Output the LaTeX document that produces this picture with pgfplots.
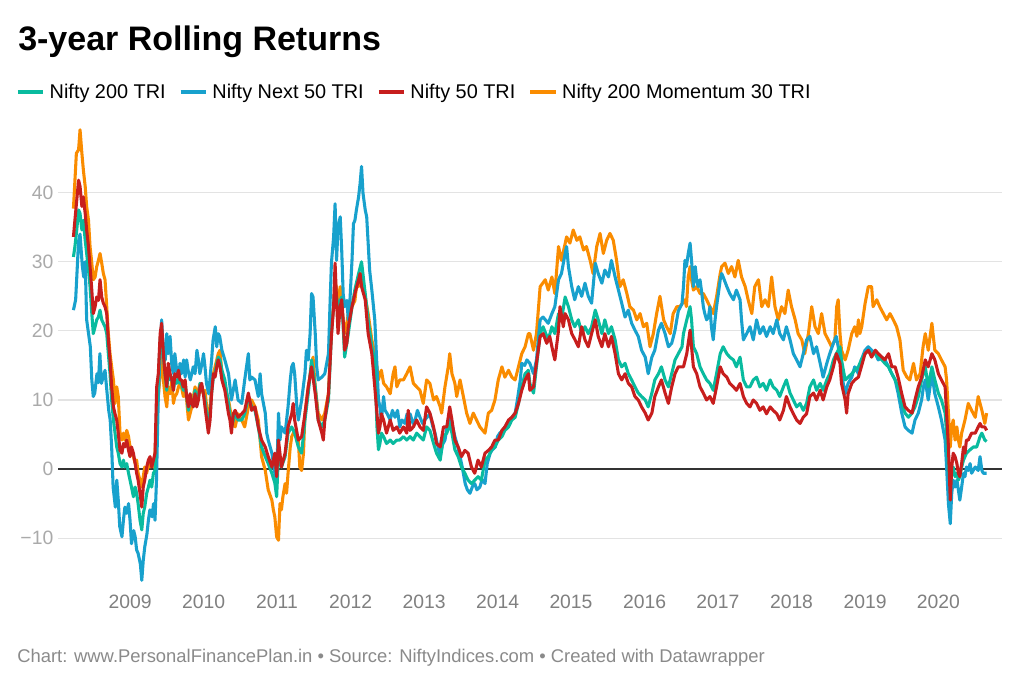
\documentclass[border=0pt]{standalone}
\usepackage{fontspec}
\setmainfont{Liberation Sans}
\usepackage{pgfplots}
\pgfplotsset{compat=1.18}
\usepackage{pgfplotstable}
\definecolor{cgreen}{HTML}{09BB9F}
\definecolor{cblue}{HTML}{18A1CD}
\definecolor{cred}{HTML}{C71E1D}
\definecolor{corange}{HTML}{FA8C00}
\definecolor{cgrid}{HTML}{E3E3E3}
\definecolor{cylab}{HTML}{AAAAAA}
\definecolor{cxlab}{HTML}{808080}
\definecolor{cfoot}{HTML}{8A8A8A}

\pgfplotstableread{
x y
2008.23 30.7
2008.25 32.2
2008.275 34.6
2008.30 37.5
2008.32 37.0
2008.345 34.6
2008.365 36.0
2008.39 33.1
2008.41 31.2
2008.435 28.8
2008.456 26.4
2008.48 22.5
2008.50 19.6
2008.525 20.6
2008.547 21.6
2008.57 22.0
2008.592 23.0
2008.615 21.6
2008.637 21.1
2008.66 20.6
2008.683 19.6
2008.705 16.7
2008.728 13.8
2008.75 10.0
2008.774 7.1
2008.796 5.2
2008.819 3.2
2008.84 2.3
2008.864 0.8
2008.89 0.3
2008.91 1.3
2008.93 0.3
2008.955 0.8
2008.98 -0.6
2009.00 -1.6
2009.02 -2.6
2009.046 -4.0
2009.07 -2.6
2009.09 -3.5
2009.11 -5.0
2009.136 -7.4
2009.16 -8.8
2009.18 -6.4
2009.20 -5.5
2009.227 -3.5
2009.25 -2.6
2009.272 -1.6
2009.295 -2.6
2009.318 -0.6
2009.34 -0.2
2009.363 9.0
2009.385 12.9
2009.41 18.7
2009.43 20.1
2009.454 16.2
2009.476 13.8
2009.50 11.4
2009.52 14.3
2009.545 12.9
2009.57 13.3
2009.59 11.4
2009.61 12.9
2009.635 12.4
2009.66 13.3
2009.68 12.4
2009.70 12.4
2009.726 11.4
2009.75 12.4
2009.77 10.5
2009.795 8.5
2009.817 10.0
2009.84 9.5
2009.862 9.5
2009.885 11.4
2009.907 10.0
2009.93 10.5
2009.953 12.4
2009.975 12.0
2009.998 11.0
2010.02 10.0
2010.043 8.0
2010.066 6.6
2010.089 8.0
2010.11 11.0
2010.134 13.3
2010.157 13.8
2010.18 15.3
2010.20 16.2
2010.225 15.8
2010.25 14.3
2010.29 12.9
2010.34 9.5
2010.38 6.1
2010.43 8.0
2010.47 7.1
2010.52 7.1
2010.56 8.0
2010.61 10.5
2010.655 9.0
2010.70 8.5
2010.745 6.1
2010.79 3.2
2010.84 1.8
2010.88 0.8
2010.93 -0.6
2010.97 -2.0
2010.995 -4.0
2011.02 2.3
2011.06 0.3
2011.11 1.8
2011.15 5.2
2011.20 6.1
2011.24 5.2
2011.29 3.2
2011.335 2.3
2011.38 7.1
2011.425 11.0
2011.47 15.8
2011.52 11.9
2011.56 7.1
2011.61 6.1
2011.65 7.1
2011.70 10.0
2011.74 19.6
2011.79 26.4
2011.83 23.5
2011.88 24.9
2011.92 16.2
2011.97 19.6
2012.02 23.5
2012.06 26.0
2012.11 28.3
2012.15 30.0
2012.20 25.4
2012.24 21.6
2012.29 17.7
2012.33 15.8
2012.36 6.1
2012.38 2.8
2012.40 3.7
2012.42 5.2
2012.45 4.7
2012.49 3.7
2012.54 4.2
2012.58 3.7
2012.63 4.2
2012.67 4.2
2012.72 4.7
2012.765 4.2
2012.81 4.7
2012.855 4.2
2012.90 5.2
2012.945 4.7
2012.99 4.2
2013.035 6.1
2013.08 5.6
2013.13 3.7
2013.17 2.3
2013.22 1.3
2013.265 4.7
2013.31 5.2
2013.35 6.6
2013.38 5.2
2013.42 2.8
2013.465 1.8
2013.51 0.3
2013.555 -0.6
2013.60 -1.6
2013.645 -2.1
2013.69 -1.6
2013.735 -1.1
2013.78 -1.6
2013.83 1.3
2013.875 1.8
2013.92 2.8
2013.965 3.2
2014.01 4.2
2014.06 4.7
2014.10 5.6
2014.15 6.1
2014.195 7.1
2014.24 7.5
2014.285 9.5
2014.33 11.9
2014.375 13.8
2014.42 14.3
2014.44 12.4
2014.49 11.0
2014.53 14.8
2014.58 19.6
2014.62 20.6
2014.69 18.7
2014.74 20.6
2014.78 19.6
2014.83 22.5
2014.87 21.6
2014.92 24.9
2014.965 23.5
2015.01 21.6
2015.05 20.6
2015.10 21.6
2015.145 19.6
2015.19 20.6
2015.235 19.6
2015.28 20.6
2015.33 23.0
2015.37 21.6
2015.42 19.6
2015.46 21.6
2015.51 19.6
2015.55 20.6
2015.60 18.7
2015.645 15.8
2015.69 14.8
2015.735 15.3
2015.78 13.8
2015.825 12.9
2015.87 11.9
2015.915 11.0
2015.96 10.5
2016.01 10.0
2016.05 9.0
2016.10 11.0
2016.14 12.9
2016.19 13.8
2016.23 14.8
2016.28 12.9
2016.325 11.9
2016.37 13.8
2016.415 15.8
2016.46 16.7
2016.51 17.7
2016.53 19.6
2016.575 21.6
2016.62 23.5
2016.64 21.6
2016.665 17.7
2016.71 16.7
2016.755 14.8
2016.80 13.8
2016.845 12.9
2016.89 12.4
2016.935 11.4
2016.98 13.8
2017.03 16.7
2017.07 17.7
2017.12 16.7
2017.16 16.2
2017.21 15.8
2017.25 14.8
2017.30 16.2
2017.345 12.9
2017.39 11.9
2017.435 11.9
2017.48 12.9
2017.525 13.3
2017.57 11.9
2017.615 12.4
2017.66 11.4
2017.71 12.9
2017.75 11.9
2017.80 11.4
2017.84 10.5
2017.89 11.9
2017.93 12.9
2017.98 11.0
2018.025 10.0
2018.07 9.0
2018.116 9.5
2018.16 8.5
2018.205 9.5
2018.25 11.9
2018.30 12.9
2018.34 11.4
2018.39 12.4
2018.43 11.4
2018.48 12.9
2018.52 13.8
2018.57 15.8
2018.61 16.7
2018.66 17.7
2018.68 15.8
2018.73 12.9
2018.77 13.3
2018.82 13.8
2018.86 14.3
2018.91 14.8
2018.95 15.8
2019.00 16.7
2019.045 17.2
2019.09 16.7
2019.14 16.7
2019.18 16.2
2019.23 15.8
2019.27 15.3
2019.32 14.8
2019.365 13.8
2019.41 12.9
2019.45 11.9
2019.50 9.5
2019.545 8.1
2019.59 7.5
2019.64 8.1
2019.68 9.0
2019.725 10.5
2019.77 12.9
2019.82 14.8
2019.86 11.9
2019.91 14.8
2019.95 12.9
2019.998 11.0
2020.04 10.0
2020.09 8.1
2020.11 5.2
2020.135 0.3
2020.16 -2.6
2020.18 -0.6
2020.20 0.3
2020.225 -1.1
2020.25 -0.6
2020.27 -1.6
2020.29 -1.1
2020.315 0.3
2020.34 1.3
2020.38 2.3
2020.43 2.8
2020.475 3.2
2020.52 3.2
2020.565 4.7
2020.59 5.2
2020.63 4.2
2020.655 4.0
}\tgreen

\pgfplotstableread{
x y
2008.23 23.0
2008.26 24.5
2008.30 33.0
2008.32 34.0
2008.35 29.5
2008.37 27.8
2008.39 30.0
2008.41 21.6
2008.46 17.7
2008.48 12.9
2008.50 10.5
2008.52 11.0
2008.55 13.8
2008.57 12.5
2008.59 16.7
2008.61 12.4
2008.64 13.5
2008.66 14.3
2008.68 11.9
2008.71 8.5
2008.73 7.1
2008.75 3.2
2008.77 -2.6
2008.80 -5.5
2008.82 -1.6
2008.84 -4.5
2008.86 -8.3
2008.89 -9.8
2008.91 -7.4
2008.93 -5.5
2008.955 -6.4
2008.98 -5.0
2009.00 -7.4
2009.02 -10.8
2009.05 -8.9
2009.07 -9.8
2009.09 -11.7
2009.11 -12.2
2009.14 -13.7
2009.16 -16.1
2009.18 -13.2
2009.20 -11.3
2009.23 -9.4
2009.25 -7.4
2009.27 -5.9
2009.30 -6.9
2009.32 -5.0
2009.34 -7.4
2009.36 -1.6
2009.385 10.5
2009.41 16.7
2009.43 21.6
2009.45 17.7
2009.48 15.8
2009.50 19.6
2009.52 16.7
2009.545 19.2
2009.57 14.8
2009.59 13.8
2009.61 16.7
2009.635 14.3
2009.66 12.9
2009.68 15.3
2009.70 13.8
2009.73 15.8
2009.75 13.3
2009.77 15.8
2009.79 14.3
2009.82 12.9
2009.84 13.8
2009.86 14.8
2009.885 13.8
2009.91 17.2
2009.93 15.8
2009.95 13.8
2009.98 15.3
2010.00 16.7
2010.02 14.8
2010.04 12.4
2010.07 10.9
2010.09 13.3
2010.11 15.8
2010.13 18.7
2010.16 20.6
2010.18 17.7
2010.20 19.6
2010.22 19.2
2010.25 17.2
2010.29 15.8
2010.34 13.8
2010.36 11.9
2010.38 10.0
2010.43 12.9
2010.47 10.0
2010.52 9.5
2010.56 12.9
2010.61 16.7
2010.63 12.9
2010.655 13.3
2010.70 12.9
2010.745 10.5
2010.77 13.8
2010.79 10.9
2010.84 8.1
2010.86 5.2
2010.88 4.2
2010.93 2.3
2010.97 -0.6
2010.995 -1.6
2011.02 8.1
2011.04 4.2
2011.06 6.1
2011.11 5.2
2011.15 9.0
2011.18 12.9
2011.20 14.8
2011.22 15.3
2011.24 13.8
2011.27 9.0
2011.29 7.1
2011.335 10.0
2011.38 13.8
2011.40 17.2
2011.425 15.8
2011.45 19.6
2011.47 25.4
2011.49 24.9
2011.52 19.6
2011.54 14.8
2011.56 12.9
2011.61 13.3
2011.65 13.8
2011.70 16.7
2011.72 23.5
2011.74 29.8
2011.77 33.6
2011.79 38.4
2011.81 30.2
2011.83 35.0
2011.86 36.5
2011.88 31.7
2011.90 25.4
2011.92 23.5
2011.95 24.4
2011.97 21.6
2011.99 24.0
2012.02 30.2
2012.04 35.5
2012.06 36.0
2012.08 37.5
2012.11 39.4
2012.13 41.3
2012.15 43.8
2012.17 39.9
2012.20 37.5
2012.22 36.5
2012.24 32.7
2012.26 28.8
2012.29 25.9
2012.33 21.6
2012.36 14.8
2012.38 10.0
2012.40 9.0
2012.42 7.1
2012.45 10.5
2012.47 8.5
2012.50 8.0
2012.54 7.1
2012.57 8.5
2012.605 7.5
2012.64 8.5
2012.67 6.1
2012.70 7.1
2012.74 6.6
2012.77 8.0
2012.81 8.0
2012.85 6.6
2012.88 7.1
2012.91 8.5
2012.945 7.5
2012.98 6.6
2013.01 7.1
2013.05 7.6
2013.08 8.0
2013.12 6.1
2013.15 5.2
2013.19 3.2
2013.22 1.8
2013.25 3.5
2013.285 4.2
2013.32 6.6
2013.35 8.0
2013.39 6.1
2013.42 4.7
2013.46 3.2
2013.49 1.8
2013.52 0.3
2013.56 -2.1
2013.59 -3.0
2013.625 -3.5
2013.66 -2.5
2013.69 -2.1
2013.72 -3.0
2013.76 -2.6
2013.79 -1.5
2013.83 -2.1
2013.86 0.8
2013.90 2.3
2013.93 2.8
2013.97 3.2
2014.00 4.7
2014.03 5.2
2014.07 5.6
2014.10 6.1
2014.14 6.6
2014.17 7.1
2014.20 7.5
2014.24 8.1
2014.27 10.0
2014.31 12.9
2014.33 15.3
2014.37 15.0
2014.40 15.8
2014.44 15.3
2014.49 13.8
2014.53 15.8
2014.58 21.6
2014.62 22.0
2014.69 21.1
2014.74 22.5
2014.78 23.5
2014.83 27.4
2014.87 28.3
2014.92 31.2
2014.94 32.2
2014.965 29.3
2015.01 26.4
2015.05 24.5
2015.10 26.4
2015.145 25.0
2015.19 26.9
2015.235 25.0
2015.28 24.0
2015.33 29.8
2015.37 28.3
2015.42 26.9
2015.46 28.8
2015.51 27.8
2015.55 30.2
2015.60 27.8
2015.645 25.9
2015.69 24.0
2015.735 22.0
2015.78 23.0
2015.825 21.1
2015.87 20.1
2015.915 19.2
2015.96 17.2
2016.01 16.2
2016.05 13.8
2016.10 16.2
2016.14 17.2
2016.19 20.1
2016.23 21.1
2016.28 19.6
2016.325 17.7
2016.37 18.2
2016.415 20.1
2016.46 22.9
2016.51 23.9
2016.53 26.4
2016.55 30.2
2016.57 29.3
2016.595 31.2
2016.62 32.7
2016.64 30.2
2016.665 26.4
2016.69 29.3
2016.71 27.4
2016.73 26.4
2016.755 27.4
2016.78 25.4
2016.80 23.5
2016.82 22.5
2016.845 21.6
2016.87 22.0
2016.89 23.5
2016.91 20.6
2016.935 18.7
2016.96 21.6
2016.98 23.5
2017.005 25.4
2017.03 27.4
2017.05 28.3
2017.07 27.8
2017.12 26.4
2017.16 25.4
2017.21 24.5
2017.25 25.9
2017.30 24.5
2017.32 21.6
2017.345 18.7
2017.39 19.6
2017.435 20.6
2017.48 18.7
2017.525 21.6
2017.57 19.6
2017.615 20.6
2017.66 19.2
2017.71 20.6
2017.75 19.6
2017.80 21.6
2017.84 19.6
2017.89 18.7
2017.93 20.6
2017.98 18.7
2018.025 16.7
2018.07 15.8
2018.116 14.8
2018.16 16.7
2018.205 18.7
2018.25 19.2
2018.30 16.7
2018.34 17.7
2018.39 15.3
2018.43 13.3
2018.48 15.3
2018.52 16.7
2018.57 18.2
2018.61 19.2
2018.66 16.2
2018.68 13.8
2018.73 10.9
2018.77 12.4
2018.82 13.3
2018.86 14.8
2018.91 13.8
2018.95 15.8
2019.00 17.2
2019.045 17.7
2019.09 17.2
2019.14 16.7
2019.18 15.8
2019.23 16.2
2019.27 15.8
2019.32 14.8
2019.365 13.8
2019.41 12.9
2019.45 11.0
2019.50 8.1
2019.545 6.1
2019.59 5.6
2019.64 5.2
2019.68 7.1
2019.725 8.1
2019.77 10.0
2019.795 11.9
2019.82 12.9
2019.86 10.0
2019.91 13.8
2019.95 10.9
2019.998 9.0
2020.04 7.1
2020.09 4.2
2020.11 0.3
2020.135 -5.0
2020.16 -7.9
2020.18 -3.5
2020.20 -1.6
2020.225 -2.6
2020.25 -1.6
2020.27 -3.0
2020.29 -4.5
2020.315 -2.6
2020.34 -0.6
2020.36 -1.1
2020.38 0.3
2020.405 -0.2
2020.43 0.8
2020.45 -0.6
2020.50 0.3
2020.54 -0.2
2020.565 1.8
2020.59 -0.2
2020.61 -0.6
2020.655 -0.6
}\tblue

\pgfplotstableread{
x y
2008.23 33.6
2008.25 36.0
2008.275 38.9
2008.30 41.8
2008.32 40.9
2008.345 38.0
2008.365 39.4
2008.39 37.0
2008.41 34.6
2008.435 32.2
2008.456 29.3
2008.48 25.9
2008.50 22.5
2008.525 23.5
2008.547 24.9
2008.57 24.4
2008.592 27.4
2008.615 24.9
2008.637 24.0
2008.66 23.5
2008.683 22.5
2008.705 18.7
2008.728 15.8
2008.75 11.9
2008.774 9.0
2008.796 8.0
2008.819 7.1
2008.84 5.2
2008.864 2.7
2008.89 2.3
2008.91 3.7
2008.93 3.2
2008.955 4.2
2008.98 2.7
2009.00 1.8
2009.02 3.2
2009.046 2.3
2009.07 0.8
2009.09 -0.6
2009.11 -1.6
2009.136 -3.5
2009.16 -5.5
2009.18 -2.6
2009.20 -1.6
2009.227 0.3
2009.25 1.3
2009.272 1.8
2009.295 0.3
2009.318 1.3
2009.34 2.3
2009.363 11.9
2009.385 13.8
2009.41 19.6
2009.43 21.1
2009.454 16.7
2009.476 13.8
2009.50 11.9
2009.52 15.3
2009.545 13.8
2009.57 12.9
2009.59 11.4
2009.61 13.8
2009.635 13.3
2009.66 14.3
2009.68 12.9
2009.70 12.9
2009.726 11.9
2009.75 12.9
2009.77 10.5
2009.795 9.0
2009.817 10.9
2009.84 9.5
2009.862 9.0
2009.885 10.9
2009.907 9.0
2009.93 10.0
2009.953 11.9
2009.975 12.4
2009.998 10.9
2010.02 9.0
2010.043 7.1
2010.066 5.2
2010.089 7.1
2010.11 10.9
2010.134 13.8
2010.157 13.3
2010.18 14.8
2010.20 15.8
2010.225 14.8
2010.25 12.9
2010.29 11.4
2010.34 8.0
2010.36 7.1
2010.38 5.2
2010.405 8.0
2010.43 8.5
2010.47 7.5
2010.52 8.0
2010.56 8.5
2010.61 11.0
2010.655 8.5
2010.70 9.0
2010.745 6.1
2010.79 4.2
2010.84 3.2
2010.88 1.8
2010.93 0.3
2010.97 2.3
2010.995 -1.1
2011.02 4.2
2011.06 0.3
2011.11 2.3
2011.15 6.1
2011.20 8.0
2011.22 9.5
2011.24 7.1
2011.29 4.2
2011.335 4.7
2011.38 8.0
2011.425 11.9
2011.47 14.8
2011.52 10.9
2011.56 7.1
2011.61 5.2
2011.63 4.2
2011.65 7.1
2011.70 10.9
2011.74 19.2
2011.77 23.5
2011.79 29.8
2011.81 24.4
2011.83 19.6
2011.86 23.5
2011.88 24.5
2011.90 21.6
2011.92 17.2
2011.95 18.2
2011.97 20.6
2012.02 23.5
2012.06 25.4
2012.11 27.4
2012.13 28.3
2012.15 26.4
2012.20 24.5
2012.24 19.6
2012.29 16.7
2012.33 11.9
2012.36 8.0
2012.38 5.2
2012.40 6.1
2012.42 8.0
2012.45 7.1
2012.49 5.2
2012.54 7.1
2012.58 5.6
2012.63 6.1
2012.67 5.2
2012.72 6.1
2012.765 5.2
2012.785 8.5
2012.81 5.6
2012.855 6.1
2012.90 7.1
2012.945 6.1
2012.99 5.6
2013.035 9.0
2013.08 8.1
2013.13 6.1
2013.17 3.7
2013.22 3.2
2013.265 6.1
2013.31 6.1
2013.35 9.0
2013.38 7.1
2013.42 4.2
2013.465 3.2
2013.51 1.8
2013.555 2.7
2013.60 2.3
2013.645 0.3
2013.69 -0.6
2013.735 1.3
2013.78 0.3
2013.83 2.3
2013.875 2.7
2013.92 3.2
2013.965 4.2
2014.01 4.2
2014.06 5.6
2014.10 6.1
2014.15 7.1
2014.195 7.5
2014.24 8.1
2014.285 9.5
2014.33 11.4
2014.375 12.9
2014.42 13.8
2014.44 11.4
2014.49 11.9
2014.51 13.8
2014.58 19.2
2014.62 19.6
2014.67 18.2
2014.71 19.2
2014.76 16.7
2014.78 15.8
2014.83 20.1
2014.85 23.5
2014.895 20.6
2014.92 22.5
2014.965 21.6
2015.01 19.6
2015.055 18.7
2015.10 17.7
2015.145 20.6
2015.19 18.7
2015.235 17.7
2015.28 19.6
2015.33 21.6
2015.37 19.2
2015.42 17.7
2015.46 19.6
2015.51 17.7
2015.55 19.2
2015.60 16.7
2015.645 13.8
2015.69 12.9
2015.735 13.8
2015.78 12.4
2015.825 11.9
2015.87 10.5
2015.915 10.0
2015.96 9.0
2016.01 8.1
2016.05 7.1
2016.10 8.1
2016.14 10.5
2016.19 11.9
2016.23 12.9
2016.28 11.0
2016.325 9.5
2016.37 11.9
2016.415 13.8
2016.46 14.8
2016.51 14.8
2016.53 14.8
2016.575 16.7
2016.62 20.1
2016.64 17.7
2016.665 14.8
2016.71 13.8
2016.755 11.9
2016.80 11.0
2016.845 10.0
2016.89 10.5
2016.935 9.5
2016.98 11.9
2017.03 14.8
2017.07 13.8
2017.12 13.3
2017.16 12.4
2017.21 11.9
2017.25 11.4
2017.30 12.4
2017.345 10.5
2017.39 9.5
2017.435 9.0
2017.48 10.0
2017.525 9.5
2017.57 8.5
2017.615 9.0
2017.66 8.0
2017.71 9.0
2017.75 8.5
2017.80 8.0
2017.84 7.1
2017.89 8.5
2017.93 10.5
2017.98 9.0
2018.025 8.0
2018.07 7.1
2018.116 6.6
2018.16 7.5
2018.205 8.0
2018.25 10.5
2018.30 11.0
2018.34 10.0
2018.39 11.4
2018.43 10.0
2018.48 11.9
2018.52 12.9
2018.57 14.8
2018.61 16.7
2018.66 15.3
2018.68 12.4
2018.73 10.0
2018.75 8.1
2018.77 10.9
2018.82 12.4
2018.86 12.9
2018.91 13.3
2018.95 14.8
2019.00 16.7
2019.045 17.2
2019.09 16.2
2019.14 17.2
2019.18 16.7
2019.23 16.2
2019.27 15.8
2019.32 16.7
2019.365 14.8
2019.41 14.8
2019.45 13.3
2019.50 10.9
2019.545 9.0
2019.59 8.5
2019.64 8.1
2019.68 10.0
2019.725 11.9
2019.77 13.3
2019.82 15.8
2019.86 14.8
2019.91 16.7
2019.95 15.8
2019.998 13.8
2020.04 12.9
2020.09 11.9
2020.11 8.1
2020.135 3.2
2020.16 -4.5
2020.18 0.3
2020.20 2.3
2020.225 1.8
2020.25 0.8
2020.27 -0.6
2020.29 -1.1
2020.315 0.8
2020.34 3.2
2020.36 2.3
2020.38 4.2
2020.405 4.2
2020.45 5.2
2020.50 5.2
2020.54 6.1
2020.565 6.6
2020.59 6.1
2020.63 6.1
2020.655 5.6
}\tred

\pgfplotstableread{
x y
2008.23 37.7
2008.27 45.7
2008.30 46.2
2008.32 49.1
2008.345 45.7
2008.365 43.3
2008.39 40.9
2008.41 38.0
2008.435 36.0
2008.456 32.2
2008.48 29.8
2008.50 27.4
2008.525 27.8
2008.547 29.3
2008.57 30.2
2008.592 31.2
2008.615 29.8
2008.637 28.3
2008.66 27.4
2008.683 23.5
2008.705 19.6
2008.728 16.7
2008.75 14.8
2008.774 12.9
2008.796 9.5
2008.819 11.9
2008.84 10.5
2008.864 5.2
2008.89 4.2
2008.91 5.2
2008.93 4.2
2008.955 5.6
2008.98 4.7
2009.00 3.2
2009.02 2.3
2009.046 1.8
2009.07 0.8
2009.09 1.3
2009.11 -0.6
2009.136 -1.6
2009.16 -2.6
2009.18 -1.1
2009.20 0.3
2009.227 -0.6
2009.25 0.8
2009.272 0.3
2009.295 1.3
2009.318 0.3
2009.34 2.3
2009.363 7.1
2009.385 10.5
2009.41 13.8
2009.43 16.7
2009.454 12.9
2009.476 10.5
2009.50 9.0
2009.52 11.9
2009.545 10.9
2009.57 12.9
2009.59 9.5
2009.61 10.5
2009.635 10.9
2009.66 11.9
2009.68 12.4
2009.70 11.9
2009.726 10.5
2009.75 11.4
2009.77 10.0
2009.795 7.1
2009.817 8.0
2009.84 9.0
2009.862 10.5
2009.885 11.9
2009.907 10.9
2009.93 11.4
2009.953 12.4
2009.975 11.4
2009.998 10.9
2010.02 11.4
2010.043 9.0
2010.066 8.0
2010.089 9.0
2010.11 11.9
2010.134 13.8
2010.157 14.8
2010.18 15.8
2010.20 16.7
2010.225 17.2
2010.25 13.8
2010.29 11.9
2010.34 10.0
2010.38 7.5
2010.43 6.1
2010.47 8.0
2010.52 7.1
2010.56 6.1
2010.61 9.0
2010.655 10.0
2010.70 9.0
2010.745 7.1
2010.77 4.2
2010.79 1.8
2010.84 -0.2
2010.88 -3.0
2010.93 -4.5
2010.95 -5.9
2010.97 -6.9
2010.995 -9.8
2011.02 -10.3
2011.04 -5.0
2011.06 -5.9
2011.08 -4.0
2011.11 -2.1
2011.13 -3.5
2011.15 -0.6
2011.18 3.2
2011.20 4.7
2011.24 5.6
2011.29 4.2
2011.31 0.3
2011.335 -0.2
2011.36 2.3
2011.38 8.0
2011.425 11.9
2011.47 14.8
2011.49 16.2
2011.52 11.9
2011.56 8.1
2011.61 7.1
2011.65 8.1
2011.70 10.9
2011.74 20.6
2011.77 23.5
2011.79 27.4
2011.81 25.9
2011.83 24.4
2011.86 26.4
2011.88 23.5
2011.90 21.6
2011.92 19.6
2011.95 21.1
2011.97 22.5
2012.02 23.5
2012.06 24.4
2012.08 26.4
2012.11 26.4
2012.13 27.8
2012.15 28.3
2012.17 26.4
2012.20 24.9
2012.24 22.5
2012.29 18.7
2012.33 16.7
2012.36 14.8
2012.38 12.9
2012.40 13.8
2012.42 14.3
2012.45 12.4
2012.49 11.9
2012.54 10.9
2012.58 13.8
2012.605 14.8
2012.63 11.9
2012.67 12.9
2012.72 12.9
2012.765 13.8
2012.81 14.8
2012.855 12.4
2012.90 11.9
2012.945 11.4
2012.99 9.5
2013.035 12.9
2013.08 12.4
2013.13 10.0
2013.17 10.5
2013.22 9.0
2013.24 8.1
2013.285 11.9
2013.33 14.8
2013.35 16.7
2013.38 13.8
2013.42 12.4
2013.445 10.5
2013.49 12.9
2013.535 10.5
2013.58 8.1
2013.625 6.6
2013.67 8.1
2013.715 7.1
2013.76 6.1
2013.83 5.2
2013.875 8.1
2013.92 8.5
2013.965 10.0
2014.01 12.9
2014.06 14.8
2014.10 13.3
2014.15 14.3
2014.195 13.3
2014.24 12.9
2014.285 14.8
2014.33 16.7
2014.375 17.7
2014.42 19.6
2014.44 19.6
2014.49 17.2
2014.53 19.6
2014.58 26.4
2014.65 27.4
2014.69 25.9
2014.74 27.8
2014.78 25.4
2014.83 32.2
2014.87 30.2
2014.94 33.6
2014.985 32.7
2015.03 34.6
2015.08 33.1
2015.12 33.6
2015.17 31.7
2015.21 32.2
2015.26 30.2
2015.30 28.3
2015.35 32.2
2015.395 34.1
2015.44 31.2
2015.485 33.1
2015.53 34.1
2015.575 33.1
2015.62 30.2
2015.665 26.4
2015.71 27.4
2015.76 25.4
2015.80 23.5
2015.85 23.0
2015.895 21.6
2015.94 22.5
2015.985 20.6
2016.03 21.1
2016.075 17.7
2016.12 19.6
2016.165 22.5
2016.21 25.0
2016.26 21.6
2016.30 20.6
2016.35 19.6
2016.39 22.5
2016.44 23.5
2016.48 23.5
2016.55 24.5
2016.57 23.5
2016.595 27.8
2016.62 29.3
2016.64 27.4
2016.665 25.9
2016.71 26.4
2016.755 25.4
2016.80 25.4
2016.845 24.5
2016.89 23.5
2016.935 22.5
2016.98 24.9
2017.03 28.3
2017.05 29.3
2017.095 29.8
2017.14 28.3
2017.185 29.3
2017.23 27.8
2017.275 30.2
2017.32 27.8
2017.37 26.4
2017.41 24.5
2017.46 22.5
2017.50 26.4
2017.55 27.4
2017.595 23.5
2017.64 24.5
2017.685 23.5
2017.73 27.8
2017.775 23.5
2017.82 21.6
2017.865 23.5
2017.91 22.5
2017.955 25.9
2018.00 23.5
2018.05 21.6
2018.09 19.6
2018.14 18.7
2018.18 16.7
2018.23 19.6
2018.275 23.5
2018.32 20.6
2018.365 19.6
2018.41 22.5
2018.456 19.6
2018.50 18.7
2018.545 17.7
2018.59 18.7
2018.615 23.5
2018.635 24.5
2018.66 19.6
2018.68 17.2
2018.73 15.8
2018.77 17.2
2018.82 19.6
2018.86 20.6
2018.89 19.2
2018.91 21.6
2018.93 19.6
2018.955 20.6
2019.00 23.9
2019.045 26.4
2019.09 26.4
2019.11 23.5
2019.16 24.5
2019.20 23.5
2019.25 22.5
2019.295 21.6
2019.34 22.5
2019.385 21.6
2019.43 20.6
2019.475 18.7
2019.52 14.3
2019.57 13.3
2019.61 12.9
2019.66 15.3
2019.70 12.9
2019.75 13.8
2019.79 17.7
2019.82 19.6
2019.86 17.2
2019.91 21.1
2019.95 17.2
2019.998 16.7
2020.04 15.8
2020.09 14.8
2020.11 12.9
2020.135 8.1
2020.16 3.2
2020.18 6.1
2020.20 7.1
2020.225 4.2
2020.25 6.1
2020.27 4.2
2020.29 3.2
2020.315 5.2
2020.36 7.1
2020.405 9.5
2020.45 8.5
2020.50 7.5
2020.54 10.5
2020.59 8.5
2020.63 6.6
2020.655 8.1
}\torange

\begin{document}
\begin{tikzpicture}
\fill[white] (0pt,0pt) rectangle (768pt,-520.5pt);
\node[anchor=base west, inner sep=0pt, font=\fontsize{25.5}{30}\selectfont\bfseries] at (13.5pt,-37.5pt) {3-year Rolling Returns};
\begin{axis}[
  at={(43.5pt,-442.5pt)}, anchor=south west,
  scale only axis, width=708pt, height=347.25pt,
  xmin=2008.02, xmax=2020.864, ymin=-17.5, ymax=49.5,
  axis line style={draw=none},
  major tick length=0pt,
  xtick={2009,2010,...,2020},
  ytick={-10,10,20,30,40},
  yticklabels={−10,10,20,30,40},
  extra y ticks={0},
  extra y tick labels={0},
  extra y tick style={grid=major, major grid style={draw=black!80, line width=1.1pt}},
  ymajorgrids,
  major grid style={draw=cgrid, line width=0.9pt},
  /pgf/number format/1000 sep={},
  /pgf/number format/assume math mode=true,
  xticklabel style={font=\fontsize{14.5}{16}\selectfont, text=cxlab},
  yticklabel style={font=\fontsize{14.5}{16}\selectfont, text=cylab},
  legend style={at={(-0.0445,1.0756)}, anchor=west, draw=none, fill=none,
    font=\fontsize{14.9}{16}\selectfont, inner sep=0pt,
    /tikz/every even column/.append style={column sep=8pt}},
  legend columns=4,
  legend cell align=left,
  legend image code/.code={\draw[line width=2.6pt] (0pt,0pt) -- (19pt,0pt);},
]
\addlegendimage{cgreen}\addlegendentry{\hspace{1.5pt}Nifty 200 TRI}
\addlegendimage{cblue}\addlegendentry{\hspace{1.5pt}Nifty Next 50 TRI}
\addlegendimage{cred}\addlegendentry{\hspace{1.5pt}Nifty 50 TRI}
\addlegendimage{corange}\addlegendentry{\hspace{1.5pt}Nifty 200 Momentum 30 TRI}
\addplot[corange, line width=2.3pt, line join=round, forget plot] table {\torange};
\addplot[cblue, line width=2.3pt, line join=round, forget plot] table {\tblue};
\addplot[cgreen, line width=2.3pt, line join=round, forget plot] table {\tgreen};
\addplot[cred, line width=2.3pt, line join=round, forget plot] table {\tred};
\end{axis}
\node[anchor=west, inner sep=0pt, text=cfoot, font=\fontsize{13.8}{15}\selectfont] at (12.75pt,-493.5pt) {Chart: www.PersonalFinancePlan.in • Source: NiftyIndices.com • Created with Datawrapper};
\end{tikzpicture}
\end{document}
